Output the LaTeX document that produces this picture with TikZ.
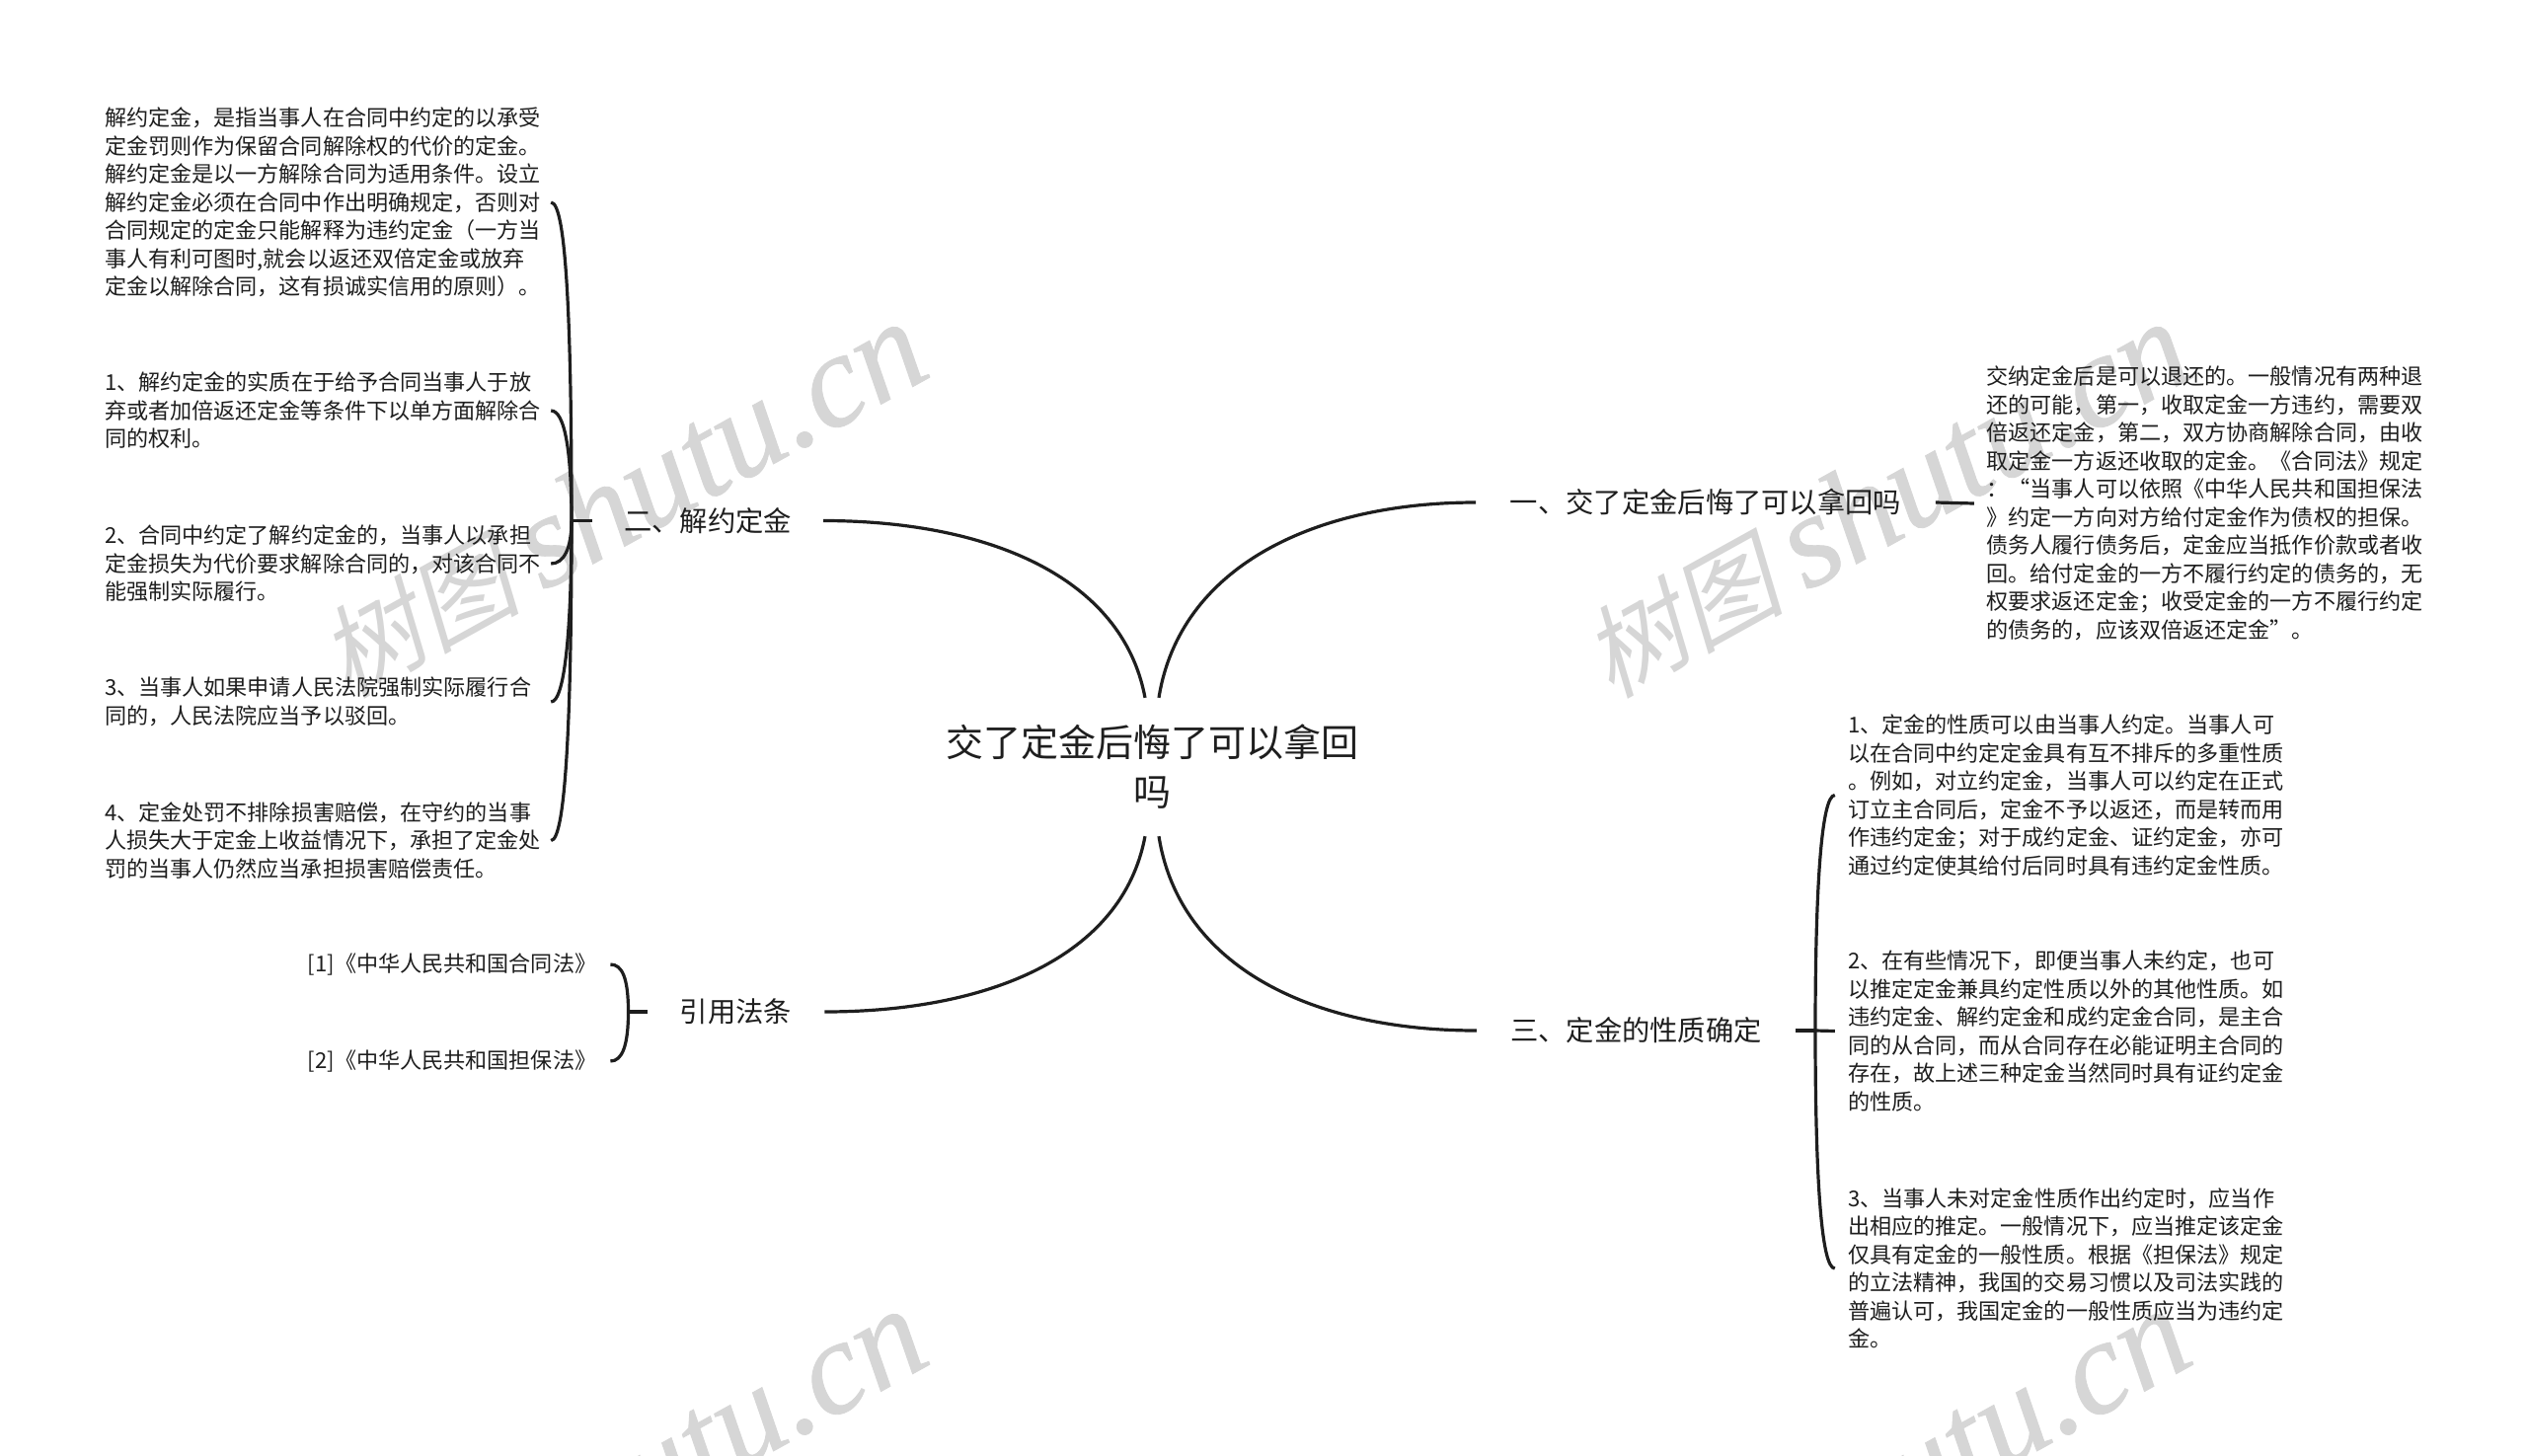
\documentclass[tikz,border=0pt]{standalone}
\usepackage{fontspec}
\setmainfont{Noto Sans CJK SC}
\newfontfamily\wmcjk[FakeSlant=0.22]{Noto Sans CJK SC}
\newfontfamily\wmlat[FakeBold=0.6]{Liberation Serif Italic}
\definecolor{ink}{HTML}{1E1E1E}
\definecolor{wmgray}{HTML}{D6D6D6}
\tikzset{
  wmark/.style={text=wmgray,rotate=29,anchor=base,inner sep=0,font=\wmcjk\fontsize{102}{102}\selectfont},
  rootnode/.style={text=ink,inner sep=0,minimum height=140pt,align=center,font=\fontsize{38}{50}\selectfont},
  topic/.style={text=ink,inner ysep=0,font=\fontsize{28.3}{34}\selectfont},
  leaf/.style={text=ink,inner ysep=0,align=left,font=\fontsize{22.1}{28.5}\selectfont},
  link/.style={draw=ink,line width=3.2pt},
}
\begin{document}
\begin{tikzpicture}[x=1pt,y=-1pt]
\useasboundingbox (0,0) rectangle (2560,1475);
\fill[white] (0,0) rectangle (2560,1475);
\begin{scope}
\clip (0,0) rectangle (2560,1475);
\foreach \wx/\wy in {650/544,1930/544,650/1544,1930/1544}{
  \node[wmark] at (\wx,\wy) {树图\hspace{22pt}{\wmlat\fontsize{135}{135}\selectfont shutu.cn}};
}
\end{scope}

\node[rootnode] (root) at (1167,777) {交了定金后悔了可以拿回\\吗};

\node[topic,inner xsep=34.5pt] (t1) at (1728,509) {一、交了定金后悔了可以拿回吗};
\node[topic,inner xsep=32pt] (t2) at (717,527.5) {二、解约定金};
\node[topic,inner xsep=34pt] (t3) at (1657.5,1044) {三、定金的性质确定};
\node[topic,inner xsep=33pt] (t4) at (745.5,1025) {引用法条};

\node[leaf,inner xsep=12.5pt,text width=444pt] (r1) at (2234.5,510) {交纳定金后是可以退还的。一般情况有两种退\\还的可能，第一，收取定金一方违约，需要双\\倍返还定金，第二，双方协商解除合同，由收\\取定金一方返还收取的定金。《合同法》规定\\：“当事人可以依照《中华人民共和国担保法\\》约定一方向对方给付定金作为债权的担保。\\债务人履行债务后，定金应当抵作价款或者收\\回。给付定金的一方不履行约定的债务的，无\\权要求返还定金；收受定金的一方不履行约定\\的债务的，应该双倍返还定金”。};

\node[leaf,inner xsep=12pt,text width=440pt] (l1) at (326,205) {解约定金，是指当事人在合同中约定的以承受\\定金罚则作为保留合同解除权的代价的定金。\\解约定金是以一方解除合同为适用条件。设立\\解约定金必须在合同中作出明确规定，否则对\\合同规定的定金只能解释为违约定金（一方当\\事人有利可图时,就会以返还双倍定金或放弃\\定金以解除合同，这有损诚实信用的原则）。};
\node[leaf,inner xsep=12pt,text width=440pt] (l2) at (326,416) {1、解约定金的实质在于给予合同当事人于放\\弃或者加倍返还定金等条件下以单方面解除合\\同的权利。};
\node[leaf,inner xsep=12pt,text width=440pt] (l3) at (326,571) {2、合同中约定了解约定金的，当事人以承担\\定金损失为代价要求解除合同的，对该合同不\\能强制实际履行。};
\node[leaf,inner xsep=12pt,text width=440pt] (l4) at (326,711) {3、当事人如果申请人民法院强制实际履行合\\同的，人民法院应当予以驳回。};
\node[leaf,inner xsep=12pt,text width=440pt] (l5) at (326,851.5) {4、定金处罚不排除损害赔偿，在守约的当事\\人损失大于定金上收益情况下，承担了定金处\\罚的当事人仍然应当承担损害赔偿责任。};

\node[leaf,inner xsep=14pt,align=left] (c1) at (458,977) {[1]《中华人民共和国合同法》};
\node[leaf,inner xsep=14pt,align=left] (c2) at (458,1075) {[2]《中华人民共和国担保法》};

\node[leaf,inner xsep=13pt,text width=440pt] (p1) at (2092,805.5) {1、定金的性质可以由当事人约定。当事人可\\以在合同中约定定金具有互不排斥的多重性质\\。例如，对立约定金，当事人可以约定在正式\\订立主合同后，定金不予以返还，而是转而用\\作违约定金；对于成约定金、证约定金，亦可\\通过约定使其给付后同时具有违约定金性质。};
\node[leaf,inner xsep=13pt,text width=440pt] (p2) at (2092,1044.5) {2、在有些情况下，即便当事人未约定，也可\\以推定定金兼具约定性质以外的其他性质。如\\违约定金、解约定金和成约定金合同，是主合\\同的从合同，而从合同存在必能证明主合同的\\存在，故上述三种定金当然同时具有证约定金\\的性质。};
\node[leaf,inner xsep=13pt,text width=440pt] (p3) at (2092,1285) {3、当事人未对定金性质作出约定时，应当作\\出相应的推定。一般情况下，应当推定该定金\\仅具有定金的一般性质。根据《担保法》规定\\的立法精神，我国的交易习惯以及司法实践的\\普遍认可，我国定金的一般性质应当为违约定\\金。};

\coordinate (jl) at (579,527.5);
\coordinate (jc) at (636.5,1025);
\coordinate (jr) at (1839,1044);

\draw[link] ([xshift=7pt]root.north) .. controls (1195,575) and (1330,509) .. (t1.west);
\draw[link] ([xshift=-7pt]root.north) .. controls (1137,584) and (1000,527.5) .. (t2.east);
\draw[link] ([xshift=7pt]root.south) .. controls (1195,980) and (1330,1044) .. (t3.west);
\draw[link] ([xshift=-7pt]root.south) .. controls (1137,970) and (1000,1025) .. (t4.east);

\draw[link] (t1.east) -- (r1.west);

\draw[link] (t2.west) -- (jl);
\draw[link] (jl) .. controls +(0,-190) and +(16,0) .. (l1.east);
\draw[link] (jl) .. controls +(0,-70) and +(14,0) .. (l2.east);
\draw[link] (jl) .. controls +(0,28) and +(13,0) .. (l3.east);
\draw[link] (jl) .. controls +(0,110) and +(14,0) .. (l4.east);
\draw[link] (jl) .. controls +(0,195) and +(15,0) .. (l5.east);

\draw[link] (t4.west) -- (jc);
\draw[link] (jc) .. controls +(0,-34) and +(12,0) .. (c1.east);
\draw[link] (jc) .. controls +(0,34) and +(12,0) .. (c2.east);

\draw[link] (t3.east) -- (jr);
\draw[link] (jr) -- (p2.west);
\draw[link] (jr) .. controls +(0,-140) and +(-14,0) .. (p1.west);
\draw[link] (jr) .. controls +(0,145) and +(-14,0) .. (p3.west);
\end{tikzpicture}
\end{document}
